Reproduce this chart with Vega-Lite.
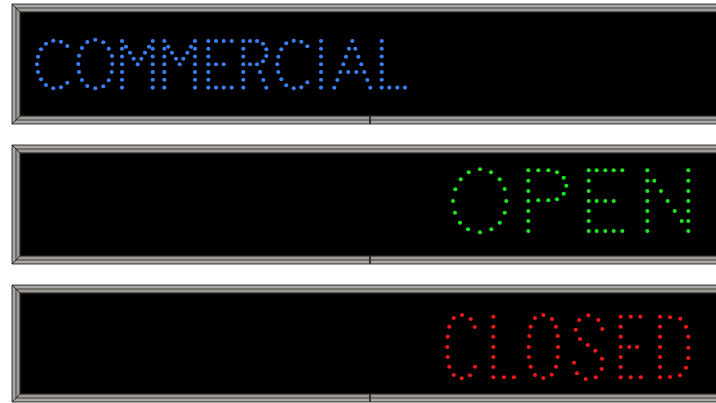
{
  "$schema": "https://vega.github.io/schema/vega-lite/v6.json",
  "width": 716,
  "height": 403,
  "autosize": {"type": "fit", "contains": "padding"},
  "padding": 0,
  "background": "#ffffff",
  "config": {"view": {"stroke": null}, "axis": {"disable": true}},
  "datasets": {
    "panels": [
      {"panel": 1, "left": 12, "right": 722, "top": 4, "bottom": 124, "tick": 370},
      {"panel": 2, "left": 12, "right": 722, "top": 145, "bottom": 264, "tick": 370},
      {"panel": 3, "left": 12, "right": 722, "top": 285, "bottom": 402, "tick": 370}
    ],
    "leds": [
      {"sign":"COMMERCIAL","x":53.3,"y":40.7},{"sign":"COMMERCIAL","x":61,"y":41.7},{"sign":"COMMERCIAL","x":46,"y":43.7},{"sign":"COMMERCIAL","x":67.3,"y":46},{"sign":"COMMERCIAL","x":41,"y":49.3},{"sign":"COMMERCIAL","x":38,"y":56.7},{"sign":"COMMERCIAL","x":37,"y":64.3},{"sign":"COMMERCIAL","x":38,"y":72},{"sign":"COMMERCIAL","x":41,"y":79.3},{"sign":"COMMERCIAL","x":46,"y":85},{"sign":"COMMERCIAL","x":53.3,"y":88.3},{"sign":"COMMERCIAL","x":61,"y":87.3},{"sign":"COMMERCIAL","x":67.3,"y":82.7},
      {"sign":"COMMERCIAL","x":87.3,"y":42},{"sign":"COMMERCIAL","x":95.3,"y":39.7},{"sign":"COMMERCIAL","x":103.3,"y":42.3},{"sign":"COMMERCIAL","x":82,"y":48},{"sign":"COMMERCIAL","x":108.7,"y":48.7},{"sign":"COMMERCIAL","x":79,"y":55.7},{"sign":"COMMERCIAL","x":112,"y":56},{"sign":"COMMERCIAL","x":78.3,"y":64},{"sign":"COMMERCIAL","x":112.3,"y":64},{"sign":"COMMERCIAL","x":79,"y":72},{"sign":"COMMERCIAL","x":111.7,"y":72},{"sign":"COMMERCIAL","x":82,"y":80},{"sign":"COMMERCIAL","x":108.7,"y":80.3},{"sign":"COMMERCIAL","x":87.3,"y":86},{"sign":"COMMERCIAL","x":95.3,"y":88.3},{"sign":"COMMERCIAL","x":103.3,"y":86.3},
      {"sign":"COMMERCIAL","x":122,"y":41},{"sign":"COMMERCIAL","x":122,"y":48.8},{"sign":"COMMERCIAL","x":122,"y":56.5},{"sign":"COMMERCIAL","x":122,"y":64.3},{"sign":"COMMERCIAL","x":122,"y":72},{"sign":"COMMERCIAL","x":122,"y":79.8},{"sign":"COMMERCIAL","x":122,"y":87.6},
      {"sign":"COMMERCIAL","x":152.7,"y":41},{"sign":"COMMERCIAL","x":152.7,"y":48.8},{"sign":"COMMERCIAL","x":152.7,"y":56.5},{"sign":"COMMERCIAL","x":152.7,"y":64.3},{"sign":"COMMERCIAL","x":152.7,"y":72},{"sign":"COMMERCIAL","x":152.7,"y":79.8},{"sign":"COMMERCIAL","x":152.7,"y":87.6},
      {"sign":"COMMERCIAL","x":126,"y":46.7},{"sign":"COMMERCIAL","x":130,"y":52.7},{"sign":"COMMERCIAL","x":133.7,"y":58.7},{"sign":"COMMERCIAL","x":137.7,"y":64.3},{"sign":"COMMERCIAL","x":141.3,"y":58.7},{"sign":"COMMERCIAL","x":145,"y":52.7},{"sign":"COMMERCIAL","x":149,"y":46.7},
      {"sign":"COMMERCIAL","x":164.3,"y":41},{"sign":"COMMERCIAL","x":164.3,"y":48.8},{"sign":"COMMERCIAL","x":164.3,"y":56.5},{"sign":"COMMERCIAL","x":164.3,"y":64.3},{"sign":"COMMERCIAL","x":164.3,"y":72},{"sign":"COMMERCIAL","x":164.3,"y":79.8},{"sign":"COMMERCIAL","x":164.3,"y":87.6},
      {"sign":"COMMERCIAL","x":195,"y":41},{"sign":"COMMERCIAL","x":195,"y":48.8},{"sign":"COMMERCIAL","x":195,"y":56.5},{"sign":"COMMERCIAL","x":195,"y":64.3},{"sign":"COMMERCIAL","x":195,"y":72},{"sign":"COMMERCIAL","x":195,"y":79.8},{"sign":"COMMERCIAL","x":195,"y":87.6},
      {"sign":"COMMERCIAL","x":168.3,"y":46.7},{"sign":"COMMERCIAL","x":172,"y":52.7},{"sign":"COMMERCIAL","x":176,"y":58.7},{"sign":"COMMERCIAL","x":179.7,"y":64.3},{"sign":"COMMERCIAL","x":183.3,"y":58.7},{"sign":"COMMERCIAL","x":187.3,"y":52.7},{"sign":"COMMERCIAL","x":191,"y":46.7},
      {"sign":"COMMERCIAL","x":208.3,"y":41},{"sign":"COMMERCIAL","x":208.3,"y":48.8},{"sign":"COMMERCIAL","x":208.3,"y":56.5},{"sign":"COMMERCIAL","x":208.3,"y":64.3},{"sign":"COMMERCIAL","x":208.3,"y":72},{"sign":"COMMERCIAL","x":208.3,"y":79.8},{"sign":"COMMERCIAL","x":208.3,"y":87.6},
      {"sign":"COMMERCIAL","x":216,"y":41},{"sign":"COMMERCIAL","x":223.7,"y":41},{"sign":"COMMERCIAL","x":231.7,"y":41},{"sign":"COMMERCIAL","x":216,"y":64.3},{"sign":"COMMERCIAL","x":223.7,"y":64.3},{"sign":"COMMERCIAL","x":216,"y":87.6},{"sign":"COMMERCIAL","x":223.7,"y":87.6},{"sign":"COMMERCIAL","x":231.7,"y":87.6},
      {"sign":"COMMERCIAL","x":243.3,"y":41},{"sign":"COMMERCIAL","x":243.3,"y":48.8},{"sign":"COMMERCIAL","x":243.3,"y":56.5},{"sign":"COMMERCIAL","x":243.3,"y":64.3},{"sign":"COMMERCIAL","x":243.3,"y":72},{"sign":"COMMERCIAL","x":243.3,"y":79.8},{"sign":"COMMERCIAL","x":243.3,"y":87.6},
      {"sign":"COMMERCIAL","x":250,"y":41},{"sign":"COMMERCIAL","x":257,"y":41},{"sign":"COMMERCIAL","x":263,"y":43.7},{"sign":"COMMERCIAL","x":266.3,"y":49.3},{"sign":"COMMERCIAL","x":266.3,"y":56},{"sign":"COMMERCIAL","x":263,"y":61.3},{"sign":"COMMERCIAL","x":250,"y":64.3},{"sign":"COMMERCIAL","x":257,"y":64.3},{"sign":"COMMERCIAL","x":260,"y":72},{"sign":"COMMERCIAL","x":263.3,"y":80},{"sign":"COMMERCIAL","x":266.3,"y":87.7},
      {"sign":"COMMERCIAL","x":293.7,"y":40.7},{"sign":"COMMERCIAL","x":301.3,"y":41.7},{"sign":"COMMERCIAL","x":286.3,"y":43.3},{"sign":"COMMERCIAL","x":307.3,"y":46.3},{"sign":"COMMERCIAL","x":281.3,"y":49.3},{"sign":"COMMERCIAL","x":278.3,"y":56.7},{"sign":"COMMERCIAL","x":277.3,"y":64.3},{"sign":"COMMERCIAL","x":278.3,"y":72},{"sign":"COMMERCIAL","x":281.3,"y":79.3},{"sign":"COMMERCIAL","x":286.3,"y":85.3},{"sign":"COMMERCIAL","x":293.7,"y":88.3},{"sign":"COMMERCIAL","x":301.3,"y":87.3},{"sign":"COMMERCIAL","x":307.3,"y":82.3},
      {"sign":"COMMERCIAL","x":321,"y":41},{"sign":"COMMERCIAL","x":321,"y":48.8},{"sign":"COMMERCIAL","x":321,"y":56.5},{"sign":"COMMERCIAL","x":321,"y":64.3},{"sign":"COMMERCIAL","x":321,"y":72},{"sign":"COMMERCIAL","x":321,"y":79.8},{"sign":"COMMERCIAL","x":321,"y":87.6},
      {"sign":"COMMERCIAL","x":352.3,"y":41},{"sign":"COMMERCIAL","x":349,"y":48.7},{"sign":"COMMERCIAL","x":355.3,"y":48.7},{"sign":"COMMERCIAL","x":346,"y":56.7},{"sign":"COMMERCIAL","x":358.3,"y":56.7},{"sign":"COMMERCIAL","x":343.3,"y":64.3},{"sign":"COMMERCIAL","x":361.3,"y":64.3},{"sign":"COMMERCIAL","x":340.3,"y":72},{"sign":"COMMERCIAL","x":348.3,"y":72},{"sign":"COMMERCIAL","x":356.3,"y":72},{"sign":"COMMERCIAL","x":364.3,"y":72},{"sign":"COMMERCIAL","x":337.3,"y":80},{"sign":"COMMERCIAL","x":367.3,"y":80},{"sign":"COMMERCIAL","x":334.3,"y":87.7},{"sign":"COMMERCIAL","x":370.3,"y":87.7},
      {"sign":"COMMERCIAL","x":381.7,"y":41},{"sign":"COMMERCIAL","x":381.7,"y":48.8},{"sign":"COMMERCIAL","x":381.7,"y":56.5},{"sign":"COMMERCIAL","x":381.7,"y":64.3},{"sign":"COMMERCIAL","x":381.7,"y":72},{"sign":"COMMERCIAL","x":381.7,"y":79.8},{"sign":"COMMERCIAL","x":381.7,"y":87.6},
      {"sign":"COMMERCIAL","x":389.3,"y":87.6},{"sign":"COMMERCIAL","x":397.3,"y":87.6},{"sign":"COMMERCIAL","x":405,"y":87.6},

      {"sign":"OPEN","x":480,"y":169.3},{"sign":"OPEN","x":468.7,"y":172.3},{"sign":"OPEN","x":491,"y":172.3},{"sign":"OPEN","x":460.7,"y":179.3},{"sign":"OPEN","x":499.7,"y":179.3},{"sign":"OPEN","x":455.3,"y":189.3},{"sign":"OPEN","x":504.7,"y":189},{"sign":"OPEN","x":453,"y":201},{"sign":"OPEN","x":506.3,"y":201},{"sign":"OPEN","x":455,"y":212.7},{"sign":"OPEN","x":504.7,"y":212.7},{"sign":"OPEN","x":460,"y":222.7},{"sign":"OPEN","x":499.7,"y":222.7},{"sign":"OPEN","x":468,"y":229.3},{"sign":"OPEN","x":491.3,"y":229.3},{"sign":"OPEN","x":480,"y":232.3},
      {"sign":"OPEN","x":528.3,"y":170.3},{"sign":"OPEN","x":528.3,"y":180.7},{"sign":"OPEN","x":528.3,"y":191},{"sign":"OPEN","x":528.3,"y":201},{"sign":"OPEN","x":528.3,"y":211},{"sign":"OPEN","x":528.3,"y":221},{"sign":"OPEN","x":528.3,"y":231},
      {"sign":"OPEN","x":538.3,"y":170.3},{"sign":"OPEN","x":548.3,"y":170.3},{"sign":"OPEN","x":557,"y":172.3},{"sign":"OPEN","x":563.7,"y":177.7},{"sign":"OPEN","x":566.3,"y":185.7},{"sign":"OPEN","x":563.7,"y":193.7},{"sign":"OPEN","x":557,"y":199.3},{"sign":"OPEN","x":538.3,"y":200.3},{"sign":"OPEN","x":548.3,"y":200.3},
      {"sign":"OPEN","x":588.7,"y":170.3},{"sign":"OPEN","x":588.7,"y":180.7},{"sign":"OPEN","x":588.7,"y":191},{"sign":"OPEN","x":588.7,"y":201},{"sign":"OPEN","x":588.7,"y":211},{"sign":"OPEN","x":588.7,"y":221},{"sign":"OPEN","x":588.7,"y":231},
      {"sign":"OPEN","x":596.7,"y":170.3},{"sign":"OPEN","x":605.3,"y":170.3},{"sign":"OPEN","x":613.7,"y":170.3},{"sign":"OPEN","x":622.3,"y":170.3},{"sign":"OPEN","x":596.7,"y":201},{"sign":"OPEN","x":605.3,"y":201},{"sign":"OPEN","x":613.7,"y":201},{"sign":"OPEN","x":596.7,"y":231},{"sign":"OPEN","x":605.3,"y":231},{"sign":"OPEN","x":613.7,"y":231},{"sign":"OPEN","x":622.3,"y":231},
      {"sign":"OPEN","x":647.3,"y":170.3},{"sign":"OPEN","x":647.3,"y":180.7},{"sign":"OPEN","x":647.3,"y":191},{"sign":"OPEN","x":647.3,"y":201},{"sign":"OPEN","x":647.3,"y":211},{"sign":"OPEN","x":647.3,"y":221},{"sign":"OPEN","x":647.3,"y":231},
      {"sign":"OPEN","x":688.3,"y":170.3},{"sign":"OPEN","x":688.3,"y":180.7},{"sign":"OPEN","x":688.3,"y":191},{"sign":"OPEN","x":688.3,"y":201},{"sign":"OPEN","x":688.3,"y":211},{"sign":"OPEN","x":688.3,"y":221},{"sign":"OPEN","x":688.3,"y":231},
      {"sign":"OPEN","x":654.3,"y":180.7},{"sign":"OPEN","x":661,"y":191},{"sign":"OPEN","x":667.7,"y":201},{"sign":"OPEN","x":674.7,"y":211},{"sign":"OPEN","x":681.7,"y":221},

      {"sign":"CLOSED","x":462,"y":315},{"sign":"CLOSED","x":453.7,"y":318},{"sign":"CLOSED","x":470.7,"y":319},{"sign":"CLOSED","x":449.3,"y":326.7},{"sign":"CLOSED","x":474.7,"y":327},{"sign":"CLOSED","x":447.7,"y":336.7},{"sign":"CLOSED","x":447.3,"y":347},{"sign":"CLOSED","x":447.7,"y":357},{"sign":"CLOSED","x":449.3,"y":366.7},{"sign":"CLOSED","x":475,"y":366.7},{"sign":"CLOSED","x":453.7,"y":375},{"sign":"CLOSED","x":461.7,"y":378.3},{"sign":"CLOSED","x":470,"y":375.3},
      {"sign":"CLOSED","x":493.3,"y":316.7},{"sign":"CLOSED","x":493.3,"y":326.7},{"sign":"CLOSED","x":493.3,"y":336.7},{"sign":"CLOSED","x":493.3,"y":347},{"sign":"CLOSED","x":493.3,"y":357},{"sign":"CLOSED","x":493.3,"y":367},{"sign":"CLOSED","x":493.3,"y":377.3},{"sign":"CLOSED","x":504,"y":377.3},{"sign":"CLOSED","x":514,"y":377.3},
      {"sign":"CLOSED","x":543.3,"y":315},{"sign":"CLOSED","x":535,"y":318},{"sign":"CLOSED","x":552,"y":319},{"sign":"CLOSED","x":530.7,"y":326.7},{"sign":"CLOSED","x":556,"y":326.7},{"sign":"CLOSED","x":529.3,"y":336},{"sign":"CLOSED","x":557.7,"y":336},{"sign":"CLOSED","x":528.7,"y":347},{"sign":"CLOSED","x":558,"y":347},{"sign":"CLOSED","x":529,"y":357},{"sign":"CLOSED","x":557.7,"y":357},{"sign":"CLOSED","x":530.7,"y":366.7},{"sign":"CLOSED","x":556,"y":366.7},{"sign":"CLOSED","x":535,"y":375},{"sign":"CLOSED","x":551.7,"y":374.7},{"sign":"CLOSED","x":543.3,"y":378},
      {"sign":"CLOSED","x":588.3,"y":315.3},{"sign":"CLOSED","x":579.3,"y":320},{"sign":"CLOSED","x":598.3,"y":320},{"sign":"CLOSED","x":575.7,"y":329.7},{"sign":"CLOSED","x":602.3,"y":329},{"sign":"CLOSED","x":580,"y":339},{"sign":"CLOSED","x":587.7,"y":345},{"sign":"CLOSED","x":595.3,"y":350.7},{"sign":"CLOSED","x":602,"y":358.7},{"sign":"CLOSED","x":574,"y":362.7},{"sign":"CLOSED","x":601.7,"y":369},{"sign":"CLOSED","x":577,"y":373.3},{"sign":"CLOSED","x":585.7,"y":379},{"sign":"CLOSED","x":595.7,"y":377.3},
      {"sign":"CLOSED","x":620.7,"y":316.7},{"sign":"CLOSED","x":620.7,"y":326.7},{"sign":"CLOSED","x":620.7,"y":336.7},{"sign":"CLOSED","x":620.7,"y":347},{"sign":"CLOSED","x":620.7,"y":357},{"sign":"CLOSED","x":620.7,"y":367},{"sign":"CLOSED","x":620.7,"y":377.3},
      {"sign":"CLOSED","x":630.7,"y":316.7},{"sign":"CLOSED","x":640.3,"y":316.7},{"sign":"CLOSED","x":629.3,"y":347},{"sign":"CLOSED","x":637,"y":347},{"sign":"CLOSED","x":630.7,"y":377.3},{"sign":"CLOSED","x":640.7,"y":377.3},
      {"sign":"CLOSED","x":660,"y":316.7},{"sign":"CLOSED","x":660,"y":326.7},{"sign":"CLOSED","x":660,"y":336.7},{"sign":"CLOSED","x":660,"y":347},{"sign":"CLOSED","x":660,"y":357},{"sign":"CLOSED","x":660,"y":367},{"sign":"CLOSED","x":660,"y":377.3},
      {"sign":"CLOSED","x":670,"y":317.3},{"sign":"CLOSED","x":680.3,"y":318.7},{"sign":"CLOSED","x":686,"y":326.7},{"sign":"CLOSED","x":688.3,"y":336.7},{"sign":"CLOSED","x":688.3,"y":347.7},{"sign":"CLOSED","x":688.3,"y":358},{"sign":"CLOSED","x":686,"y":367.7},{"sign":"CLOSED","x":680,"y":375.3},{"sign":"CLOSED","x":670,"y":377}
    ]
  },
  "layer": [
    {
      "data": {"name": "panels"},
      "mark": {"type": "rect", "clip": true, "fill": "#8a8682", "stroke": "#454545", "strokeWidth": 1},
      "encoding": {
        "x": {"field": "left", "type": "quantitative", "scale": {"domain": [0, 716], "nice": false, "zero": false}},
        "x2": {"field": "right"},
        "y": {"field": "top", "type": "quantitative", "scale": {"domain": [0, 403], "nice": false, "zero": false, "reverse": true}},
        "y2": {"field": "bottom"}
      }
    },
    {
      "data": {"name": "panels"},
      "mark": {"type": "rect", "clip": true, "fill": "transparent", "stroke": "#cdc9c5", "strokeWidth": 1, "xOffset": 2, "yOffset": 2, "y2Offset": -2},
      "encoding": {
        "x": {"field": "left", "type": "quantitative", "scale": {"domain": [0, 716], "nice": false, "zero": false}},
        "x2": {"field": "right"},
        "y": {"field": "top", "type": "quantitative", "scale": {"domain": [0, 403], "nice": false, "zero": false, "reverse": true}},
        "y2": {"field": "bottom"}
      }
    },
    {
      "data": {"name": "panels"},
      "mark": {"type": "rect", "clip": true, "fill": "transparent", "stroke": "#5a5652", "strokeWidth": 1, "xOffset": 4, "yOffset": 4, "y2Offset": -4},
      "encoding": {
        "x": {"field": "left", "type": "quantitative", "scale": {"domain": [0, 716], "nice": false, "zero": false}},
        "x2": {"field": "right"},
        "y": {"field": "top", "type": "quantitative", "scale": {"domain": [0, 403], "nice": false, "zero": false, "reverse": true}},
        "y2": {"field": "bottom"}
      }
    },
    {
      "data": {"name": "panels"},
      "mark": {"type": "rect", "clip": true, "fill": "transparent", "stroke": "#b3afab", "strokeWidth": 1, "xOffset": 6, "yOffset": 6, "y2Offset": -6},
      "encoding": {
        "x": {"field": "left", "type": "quantitative", "scale": {"domain": [0, 716], "nice": false, "zero": false}},
        "x2": {"field": "right"},
        "y": {"field": "top", "type": "quantitative", "scale": {"domain": [0, 403], "nice": false, "zero": false, "reverse": true}},
        "y2": {"field": "bottom"}
      }
    },
    {
      "data": {"name": "panels"},
      "mark": {"type": "rect", "clip": true, "fill": "#000000", "stroke": "#333333", "strokeWidth": 1, "xOffset": 8, "yOffset": 8, "y2Offset": -8},
      "encoding": {
        "x": {"field": "left", "type": "quantitative", "scale": {"domain": [0, 716], "nice": false, "zero": false}},
        "x2": {"field": "right"},
        "y": {"field": "top", "type": "quantitative", "scale": {"domain": [0, 403], "nice": false, "zero": false, "reverse": true}},
        "y2": {"field": "bottom"}
      }
    },
    {
      "data": {"name": "panels"},
      "mark": {"type": "rule", "clip": true, "color": "#222222", "strokeWidth": 1, "x2Offset": 8, "y2Offset": 8},
      "encoding": {
        "x": {"field": "left", "type": "quantitative", "scale": {"domain": [0, 716], "nice": false, "zero": false}},
        "x2": {"field": "left"},
        "y": {"field": "top", "type": "quantitative", "scale": {"domain": [0, 403], "nice": false, "zero": false, "reverse": true}},
        "y2": {"field": "top"}
      }
    },
    {
      "data": {"name": "panels"},
      "mark": {"type": "rule", "clip": true, "color": "#222222", "strokeWidth": 1, "x2Offset": 8, "y2Offset": -8},
      "encoding": {
        "x": {"field": "left", "type": "quantitative", "scale": {"domain": [0, 716], "nice": false, "zero": false}},
        "x2": {"field": "left"},
        "y": {"field": "bottom", "type": "quantitative", "scale": {"domain": [0, 403], "nice": false, "zero": false, "reverse": true}},
        "y2": {"field": "bottom"}
      }
    },
    {
      "data": {"name": "panels"},
      "mark": {"type": "rule", "clip": true, "color": "#333333", "strokeWidth": 2, "y2Offset": -8},
      "encoding": {
        "x": {"field": "tick", "type": "quantitative", "scale": {"domain": [0, 716], "nice": false, "zero": false}},
        "y": {"field": "bottom", "type": "quantitative", "scale": {"domain": [0, 403], "nice": false, "zero": false, "reverse": true}},
        "y2": {"field": "bottom"}
      }
    },
    {
      "data": {"name": "leds"},
      "mark": {"type": "circle", "size": 17, "opacity": 1, "strokeWidth": 0},
      "encoding": {
        "x": {"field": "x", "type": "quantitative", "scale": {"domain": [0, 716], "nice": false, "zero": false}},
        "y": {"field": "y", "type": "quantitative", "scale": {"domain": [0, 403], "nice": false, "zero": false, "reverse": true}},
        "color": {"field": "sign", "type": "nominal", "legend": null, "scale": {"domain": ["COMMERCIAL", "OPEN", "CLOSED"], "range": ["#3a80f5", "#1ee61e", "#f01818"]}}
      }
    }
  ]
}
